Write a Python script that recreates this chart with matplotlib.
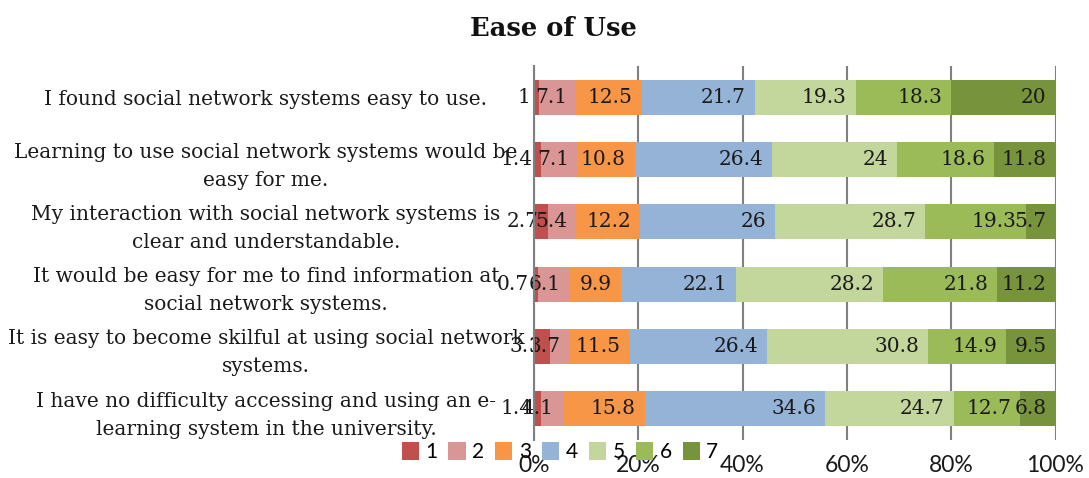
import numpy as np
import matplotlib
matplotlib.use("Agg")
import matplotlib.pyplot as plt
from matplotlib.patches import Patch
from matplotlib.transforms import offset_copy

# Survey items (top to bottom) and the share of answers on each point of the 1-7 scale
statements = [
    "I found social network systems easy to use.",
    "Learning to use social network systems would be\neasy for me.",
    "My interaction with social network systems is\nclear and understandable.",
    "It would be easy for me to find information at\nsocial network systems.",
    "It is easy to become skilful at using social network\nsystems.",
    "I have no difficulty accessing and using an e-\nlearning system in the university.",
]
scale_points = ["1", "2", "3", "4", "5", "6", "7"]
resp_1 = [1.0, 1.4, 2.7, 0.7, 3.1, 1.4]
resp_2 = [7.1, 7.1, 5.4, 6.1, 3.7, 4.1]
resp_3 = [12.5, 10.8, 12.2, 9.9, 11.5, 15.8]
resp_4 = [21.7, 26.4, 26.0, 22.1, 26.4, 34.6]
resp_5 = [19.3, 24.0, 28.7, 28.2, 30.8, 24.7]
resp_6 = [18.3, 18.6, 19.3, 21.8, 14.9, 12.7]
resp_7 = [20.0, 11.8, 5.7, 11.2, 9.5, 6.8]
x_ticks = [0, 20, 40, 60, 80, 100]
x_tick_labels = ["0%", "20%", "40%", "60%", "80%", "100%"]

colors = ["#C0504D", "#D99694", "#F79646", "#95B3D7", "#C3D69B", "#9BBB59", "#77933C"]

serif = "DejaVu Serif"
sans = "Lato"

series = np.array([resp_1, resp_2, resp_3, resp_4, resp_5, resp_6, resp_7])
totals = series.sum(axis=0)
shares = series / totals * 100.0  # 100% stacked

fig = plt.figure(figsize=(10.89, 4.78), dpi=100)
ax = fig.add_axes([534 / 1089, 1 - 440 / 478, (1055.5 - 534) / 1089, (440 - 66) / 478])

y = np.arange(len(statements))
left = np.zeros(len(statements))
label_tf = offset_copy(ax.transData, fig=fig, x=-9, y=0, units="dots")
for k in range(len(scale_points)):
    ax.barh(y, shares[k], left=left, height=0.56, color=colors[k],
            edgecolor="none", zorder=2)
    ends = left + shares[k]
    for yi, xe, val in zip(y, ends, series[k]):
        txt = f"{val:g}"
        ax.text(xe, yi, txt, transform=label_tf, ha="right", va="center",
                fontsize=14.5, family=serif, color="#1a1a1a", zorder=3)
    left = ends

ax.set_xlim(0, 100)
ax.set_ylim(len(statements) - 0.5, -0.5)
ax.set_xticks(x_ticks)
ax.set_xticklabels(x_tick_labels, family=sans, fontsize=16.5, color="#1a1a1a")
ax.tick_params(axis="x", length=0, pad=11)
ax.set_yticks(y)
ax.set_yticklabels(statements, family=serif, fontsize=14.5, color="#1a1a1a",
                   ha="center", multialignment="center", linespacing=1.6)
ax.tick_params(axis="y", length=0, pad=(534 - 266) * 0.72)

ax.grid(axis="x", color="#808080", linewidth=1.5, zorder=0)
ax.set_axisbelow(True)
for side in ["top", "right", "bottom"]:
    ax.spines[side].set_visible(False)
ax.spines["left"].set_color("#808080")
ax.spines["left"].set_linewidth(1.5)
ax.spines["left"].set_zorder(4)

fig.text(553 / 1089, 1 - 28 / 478, "Ease of Use", ha="center", va="center",
         fontsize=18.5, fontweight="bold", family=serif, color="#111111")

handles = [Patch(facecolor=c, edgecolor="none") for c in colors]
fig.legend(handles, scale_points, loc="center", ncol=7,
           bbox_to_anchor=(560 / 1089, 1 - 452 / 478), frameon=False,
           prop={"family": sans, "size": 15}, handlelength=0.82,
           handleheight=1.0, handletextpad=0.3, columnspacing=0.55,
           borderpad=0, borderaxespad=0)

fig.savefig("out.png", dpi=100)
